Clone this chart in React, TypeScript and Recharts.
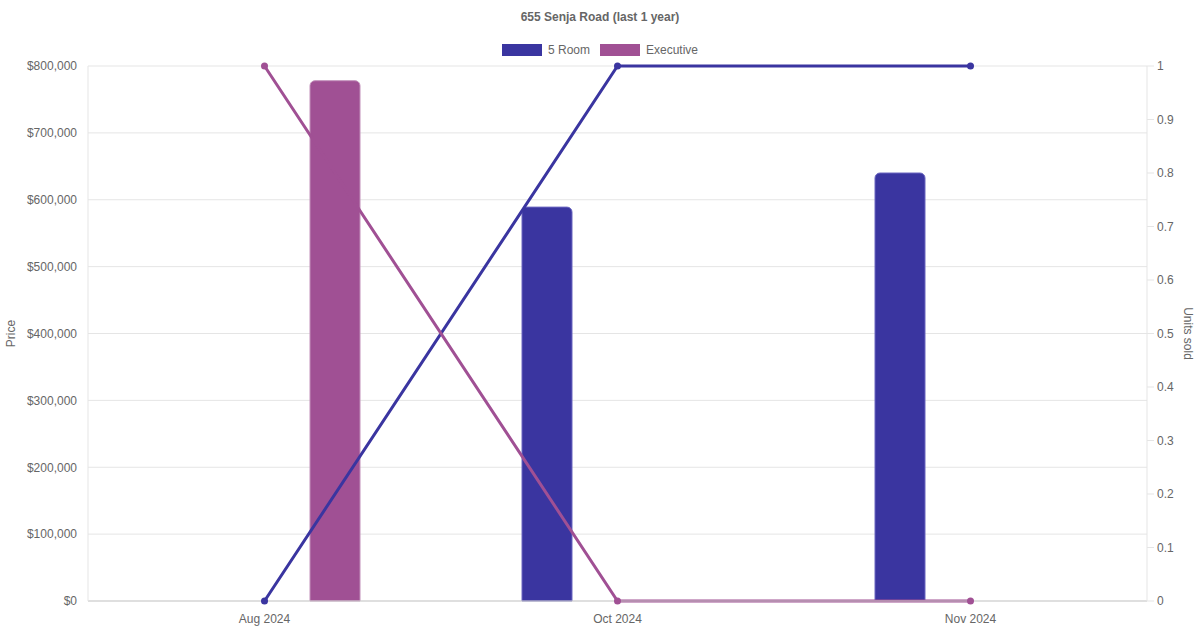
import React from 'react';
import {
  ComposedChart,
  Bar,
  Line,
  XAxis,
  YAxis,
  CartesianGrid,
} from 'recharts';

const months = ['Aug 2024', 'Oct 2024', 'Nov 2024'];
const price5Room: (number | null)[] = [null, 589000, 640000];
const priceExecutive: (number | null)[] = [778000, null, null];
const units5Room = [0, 1, 1];
const unitsExecutive = [1, 0, 0];
const priceTicks = [0, 100000, 200000, 300000, 400000, 500000, 600000, 700000, 800000];
const unitTicks = [0, 0.1, 0.2, 0.3, 0.4, 0.5, 0.6, 0.7, 0.8, 0.9, 1];

const data = months.map((m, i) => ({
  month: m,
  p5: price5Room[i],
  pE: priceExecutive[i],
  u5: units5Room[i],
  uE: unitsExecutive[i],
}));

const C5 = '#3a35a0';
const CE = '#a05094';
const FONT = '"Liberation Sans", Arial, Helvetica, sans-serif';
const TEXT = '#666666';

const fmtPrice = (v: number) => '$' + v.toLocaleString('en-US');

export default function App() {
  return (
    <div
      style={{
        position: 'absolute',
        left: 0,
        top: 0,
        width: 1200,
        height: 630,
        fontFamily: FONT,
        background: '#fff',
      }}
    >
      <div
        style={{
          position: 'absolute',
          top: 9,
          left: 0,
          width: 1200,
          textAlign: 'center',
          fontSize: 12,
          fontWeight: 'bold',
          color: TEXT,
          lineHeight: '16px',
        }}
      >
        655 Senja Road (last 1 year)
      </div>
      <div
        style={{
          position: 'absolute',
          top: 42,
          left: 0,
          width: 1200,
          display: 'flex',
          justifyContent: 'center',
          alignItems: 'center',
          fontSize: 12,
          color: TEXT,
          lineHeight: '16px',
        }}
      >
        {[
          { name: '5 Room', color: C5 },
          { name: 'Executive', color: CE },
        ].map((it, i) => (
          <div key={it.name} style={{ display: 'flex', alignItems: 'center', marginLeft: i ? 10 : 0 }}>
            <span
              style={{
                display: 'inline-block',
                width: 40,
                height: 12,
                background: it.color,
                marginRight: 6,
                boxSizing: 'border-box',
              }}
            />
            <span>{it.name}</span>
          </div>
        ))}
      </div>
      <ComposedChart
        width={1200}
        height={630}
        data={data}
        margin={{ top: 66, right: 0, bottom: 0, left: 0 }}
        barGap={91}
        style={{ position: 'absolute', left: 0, top: 0 }}
      >
        <CartesianGrid yAxisId="left" vertical={false} stroke="#e5e5e5" />
        <XAxis
          dataKey="month"
          height={29}
          tickLine={false}
          tickSize={6}
          tickMargin={7}
          axisLine={{ stroke: '#cccccc' }}
          tick={{ fill: TEXT, fontSize: 12, fontFamily: FONT }}
        />
        <YAxis
          yAxisId="left"
          orientation="left"
          width={88}
          domain={[0, 800000]}
          ticks={priceTicks}
          tickFormatter={fmtPrice}
          interval={0}
          tickLine={false}
          tickSize={6}
          tickMargin={5}
          axisLine={{ stroke: '#e5e5e5' }}
          tick={{ fill: TEXT, fontSize: 12, fontFamily: FONT }}
          label={{
            content: (props: any) => {
              const vb = props.viewBox || {};
              const x = (vb.x || 0) + 11;
              const y = (vb.y || 0) + (vb.height || 0) / 2;
              return (
                <text
                  x={x}
                  y={y}
                  transform={`rotate(-90, ${x}, ${y})`}
                  textAnchor="middle"
                  dominantBaseline="central"
                  fill={TEXT}
                  fontSize={12}
                  fontFamily={FONT}
                >
                  Price
                </text>
              );
            },
          }}
        />
        <YAxis
          yAxisId="right"
          orientation="right"
          width={53}
          domain={[0, 1]}
          ticks={unitTicks}
          tickFormatter={(v: number) => String(v)}
          interval={0}
          tickLine={{ stroke: '#e5e5e5' }}
          tickSize={7}
          tickMargin={3}
          axisLine={{ stroke: '#e5e5e5' }}
          tick={{ fill: TEXT, fontSize: 12, fontFamily: FONT }}
          label={{
            content: (props: any) => {
              const vb = props.viewBox || {};
              const x = (vb.x || 0) + 41;
              const y = (vb.y || 0) + (vb.height || 0) / 2;
              return (
                <text
                  x={x}
                  y={y}
                  transform={`rotate(90, ${x}, ${y})`}
                  textAnchor="middle"
                  dominantBaseline="central"
                  fill={TEXT}
                  fontSize={12}
                  fontFamily={FONT}
                >
                  Units sold
                </text>
              );
            },
          }}
        />
        <Bar
          yAxisId="left"
          dataKey="p5"
          barSize={50}
          fill={C5}
          stroke="#6a66c0"
          strokeWidth={1}
          radius={[5, 5, 0, 0]}
          isAnimationActive={false}
        />
        <Bar
          yAxisId="left"
          dataKey="pE"
          barSize={50}
          fill={CE}
          stroke="#c290ba"
          strokeWidth={1}
          radius={[5, 5, 0, 0]}
          isAnimationActive={false}
        />
        <Line
          yAxisId="right"
          dataKey="u5"
          stroke={C5}
          strokeWidth={3}
          dot={{ r: 3.5, fill: C5, stroke: C5, strokeWidth: 0 }}
          activeDot={false}
          isAnimationActive={false}
        />
        <Line
          yAxisId="right"
          dataKey="uE"
          stroke={CE}
          strokeWidth={3}
          dot={{ r: 3.5, fill: CE, stroke: CE, strokeWidth: 0 }}
          activeDot={false}
          isAnimationActive={false}
        />
      </ComposedChart>
    </div>
  );
}
